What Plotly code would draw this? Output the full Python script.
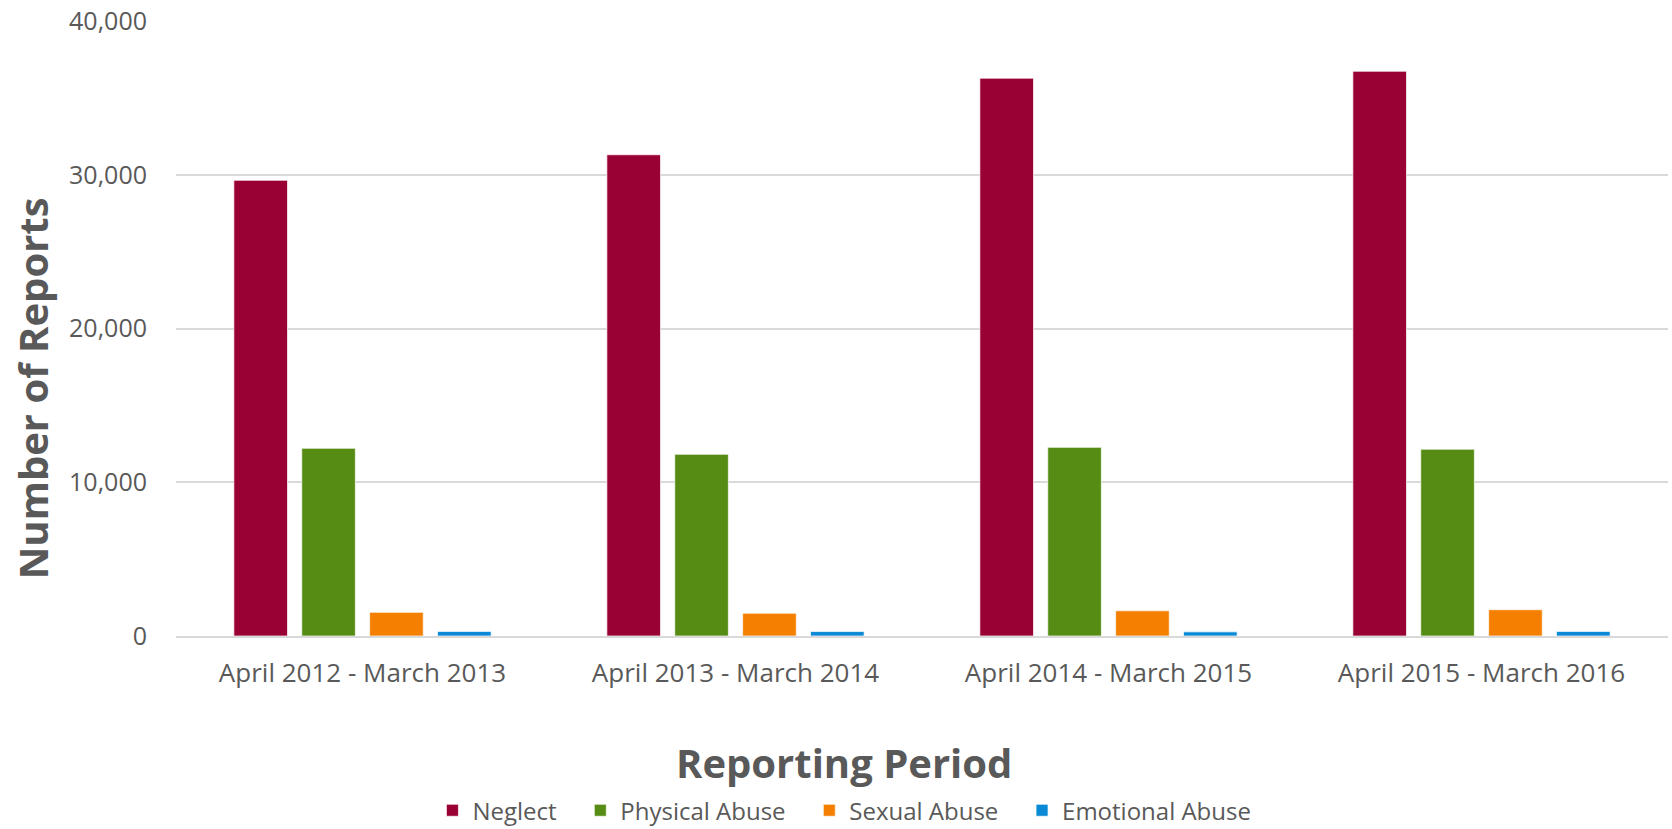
import plotly.graph_objects as go

periods = ["April 2012 - March 2013", "April 2013 - March 2014",
           "April 2014 - March 2015", "April 2015 - March 2016"]
neglect = [29640, 31300, 36280, 36730]
physical = [12210, 11820, 12270, 12150]
sexual = [1540, 1480, 1640, 1710]
emotional = [300, 290, 270, 300]

series_names = ["Neglect", "Physical Abuse", "Sexual Abuse", "Emotional Abuse"]
series_values = [neglect, physical, sexual, emotional]
series_colors = ["#990033", "#568C14", "#F57F00", "#0A8AD6"]

FONT = "Open Sans"
GREY = "#595959"
PAD = "\u00a0\u00a0\u00a0"

fig = go.Figure()
for i, (name, vals, col) in enumerate(zip(series_names, series_values, series_colors)):
    label = name + (PAD if i < len(series_names) - 1 else "")
    fig.add_trace(go.Bar(x=periods, y=vals, name=label, marker_color=col,
                         marker_line=dict(color="rgba(255,255,255,0.7)", width=1)))

fig.update_layout(
    width=1672, height=829,
    paper_bgcolor="white", plot_bgcolor="white",
    margin=dict(l=176, r=4, t=21, b=193, autoexpand=False),
    barmode="group", bargap=0.272, bargroupgap=0.21,
    font=dict(family=FONT, color=GREY, size=24),
    showlegend=True,
    legend=dict(orientation="h", x=0.448, xanchor="center", y=-0.284, yanchor="middle",
                font=dict(size=24, color=GREY), itemwidth=30, tracegroupgap=0,
                bgcolor="rgba(0,0,0,0)"),
    xaxis=dict(showgrid=False, showline=True, linecolor="#d9d9d9", linewidth=2,
               ticks="", tickfont=dict(size=26, color=GREY), ticklabelstandoff=13,
               automargin=False),
    yaxis=dict(range=[0, 40000], tickvals=[0, 10000, 20000, 30000, 40000],
               tickformat=",d", showgrid=True, gridcolor="#d9d9d9", gridwidth=2,
               zeroline=False, showline=False, ticks="",
               tickfont=dict(size=25, color=GREY), ticklabelstandoff=28,
               automargin=False),
    annotations=[
        dict(text="<b>Number of Reports</b>", xref="paper", yref="paper",
             x=-0.0965, y=0.403, textangle=-90, showarrow=False,
             font=dict(size=40, color=GREY, family=FONT), xanchor="center", yanchor="middle"),
        dict(text="<b>Reporting Period</b>", xref="paper", yref="paper",
             x=0.448, y=-0.2065, showarrow=False,
             font=dict(size=40, color=GREY, family=FONT), xanchor="center", yanchor="middle"),
    ],
)

fig.write_html("out.html", config={"displayModeBar": False},
               post_script="document.body.style.margin='0';document.body.style.overflow='hidden';")
